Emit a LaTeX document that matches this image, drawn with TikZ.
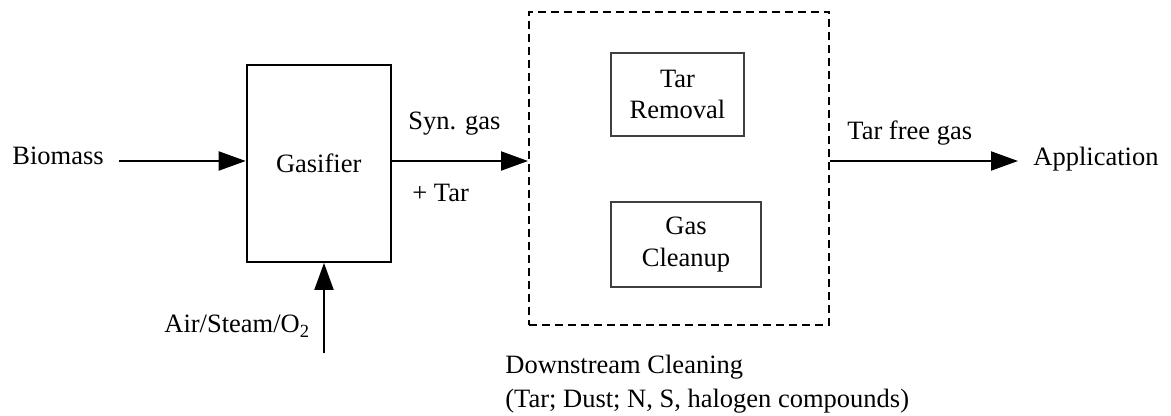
\documentclass[tikz,border=0pt]{standalone}
\usepackage{fontspec}
\setmainfont{Liberation Serif}
\usetikzlibrary{arrows.meta}
\tikzset{
  lbl/.style={inner sep=0pt, anchor=base west, font=\fontsize{13.25}{16}\selectfont},
  mainbox/.style={draw, line width=1pt, font=\fontsize{13.25}{16}\selectfont},
  subbox/.style={draw=black!75, line width=0.6pt, align=center, font=\fontsize{13.25}{15.75}\selectfont},
  stagebox/.style={draw, line width=1pt, dash pattern=on 4pt off 2.5pt},
  flow/.style={line width=1pt, -{Triangle[length=13.5pt,width=9.5pt]}}
}
\begin{document}
\begin{tikzpicture}[x=0.5pt, y=-0.5pt]
\useasboundingbox (0,0) rectangle (1171,416);

% process blocks
\node[mainbox, minimum width=72pt, minimum height=98.5pt] (gas) at (318.7,163.4) {Gasifier};
\node[stagebox, minimum width=150pt, minimum height=156.75pt] (dsc) at (679,168.5) {};
\node[subbox, minimum width=66.5pt, minimum height=41.5pt] (tar) at (677.5,94.5) {Tar\\Removal};
\node[subbox, minimum width=75pt, minimum height=42.5pt] (clean) at (686,244.5) {Gas\\Cleanup};

% inputs and outputs
\node[lbl, inner xsep=7.5pt] (bio) at (-3,165) {Biomass};
\node[lbl, inner xsep=7.5pt] (app) at (1018,166) {Application};
\node[lbl] (air) at (164,333) {Air/Steam/O\textsubscript{2}};
\coordinate (airin) at (324,353);
\coordinate (mid) at (0,161);

% stream labels
\node[lbl] (syn) at (408,130) {Syn. gas};
\node[lbl] (plustar) at (412,202) {+ Tar};
\node[lbl] (free) at (847,140) {Tar free gas};
\node[lbl] (dslab) at (505,373) {Downstream Cleaning};
\node[lbl] (dslist) at (505,407) {(Tar; Dust; N, S, halogen compounds)};

% streams
\draw[flow] (bio.east |- mid) -- (gas.west |- mid);
\draw[flow] (airin) -- (airin |- gas.south);
\draw[flow] (gas.east |- mid) -- (dsc.west |- mid);
\draw[flow] (dsc.east |- mid) -- (app.west |- mid);
\end{tikzpicture}
\end{document}
